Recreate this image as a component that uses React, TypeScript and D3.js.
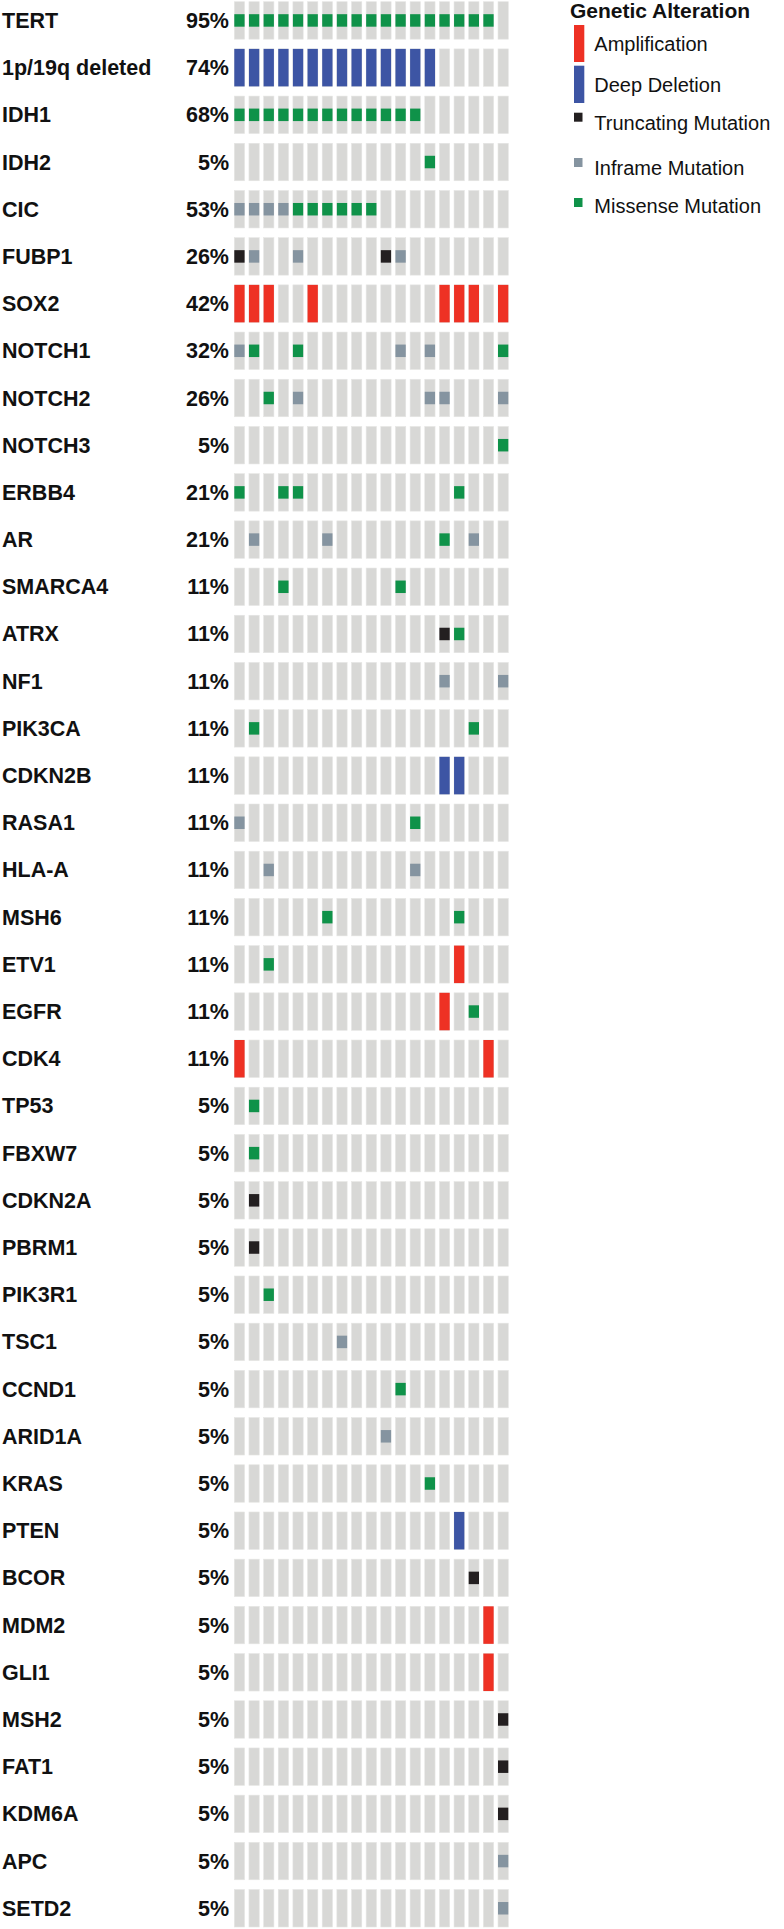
import React from "react";
import * as d3 from "d3";

// genes in display order, with the altered-% label from the plot
const genes = [
  "TERT", "1p/19q deleted", "IDH1", "IDH2", "CIC", "FUBP1", "SOX2", "NOTCH1", "NOTCH2", "NOTCH3",
  "ERBB4", "AR", "SMARCA4", "ATRX", "NF1", "PIK3CA", "CDKN2B", "RASA1", "HLA-A", "MSH6",
  "ETV1", "EGFR", "CDK4", "TP53", "FBXW7", "CDKN2A", "PBRM1", "PIK3R1", "TSC1", "CCND1",
  "ARID1A", "KRAS", "PTEN", "BCOR", "MDM2", "GLI1", "MSH2", "FAT1", "KDM6A", "APC", "SETD2",
];
const percents = [
  "95%", "74%", "68%", "5%", "53%", "26%", "42%", "32%", "26%", "5%",
  "21%", "21%", "11%", "11%", "11%", "11%", "11%", "11%", "11%", "11%",
  "11%", "11%", "11%", "5%", "5%", "5%", "5%", "5%", "5%", "5%",
  "5%", "5%", "5%", "5%", "5%", "5%", "5%", "5%", "5%", "5%", "5%",
];
const samples = d3.range(19);

// altered samples per gene, one list per alteration type
const amplification: [string, number[]][] = [
  ["SOX2", [0, 1, 2, 5, 14, 15, 16, 18]],
  ["ETV1", [15]],
  ["EGFR", [14]],
  ["CDK4", [0, 17]],
  ["MDM2", [17]],
  ["GLI1", [17]],
];
const deepDeletion: [string, number[]][] = [
  ["1p/19q deleted", d3.range(14)],
  ["CDKN2B", [14, 15]],
  ["PTEN", [15]],
];
const truncating: [string, number[]][] = [
  ["FUBP1", [0, 10]],
  ["ATRX", [14]],
  ["CDKN2A", [1]],
  ["PBRM1", [1]],
  ["BCOR", [16]],
  ["MSH2", [18]],
  ["FAT1", [18]],
  ["KDM6A", [18]],
];
const inframe: [string, number[]][] = [
  ["CIC", [0, 1, 2, 3]],
  ["FUBP1", [1, 4, 11]],
  ["NOTCH1", [0, 11, 13]],
  ["NOTCH2", [4, 13, 14, 18]],
  ["AR", [1, 6, 16]],
  ["NF1", [14, 18]],
  ["RASA1", [0]],
  ["HLA-A", [2, 12]],
  ["TSC1", [7]],
  ["ARID1A", [10]],
  ["APC", [18]],
  ["SETD2", [18]],
];
const missense: [string, number[]][] = [
  ["TERT", d3.range(18)],
  ["IDH1", d3.range(13)],
  ["IDH2", [13]],
  ["CIC", [4, 5, 6, 7, 8, 9]],
  ["NOTCH1", [1, 4, 18]],
  ["NOTCH2", [2]],
  ["NOTCH3", [18]],
  ["ERBB4", [0, 3, 4, 15]],
  ["AR", [14]],
  ["SMARCA4", [3, 11]],
  ["ATRX", [15]],
  ["PIK3CA", [1, 16]],
  ["RASA1", [12]],
  ["MSH6", [6, 15]],
  ["ETV1", [2]],
  ["EGFR", [16]],
  ["TP53", [1]],
  ["FBXW7", [1]],
  ["PIK3R1", [2]],
  ["CCND1", [11]],
  ["KRAS", [13]],
];

const legendLabels = ["Amplification", "Deep Deletion", "Truncating Mutation", "Inframe Mutation", "Missense Mutation"];
const colors = {
  amp: "#ee3124",
  del: "#3d55a4",
  trunc: "#231f20",
  inframe: "#8594a0",
  missense: "#0f9249",
  bg: "#d8d8d6",
};

const font = "'Liberation Sans', Arial, Helvetica, sans-serif";

export default function App() {
  const W = 784;
  const H = 1929;

  const x = d3.scaleBand<number>().domain(samples).range([234.3, 508.3]).paddingInner(0.297);
  const y = d3.scaleBand<string>().domain(genes).range([1.7, 1927]).paddingInner(0.206);
  const bw = x.bandwidth();
  const bh = y.bandwidth();
  const mh = bh / 3;

  const flat = (list: [string, number[]][], kind: string) =>
    list.flatMap(([g, s]) => s.map((i) => ({ g, i, kind })));

  const full = [...flat(amplification, "amp"), ...flat(deepDeletion, "del")];
  const small = [...flat(truncating, "trunc"), ...flat(inframe, "inframe"), ...flat(missense, "missense")];

  return (
    <svg width={W} height={H} style={{ position: "absolute", left: 0, top: 0 }} fontFamily={font}>
      <rect width={W} height={H} fill="#fff" />
      {genes.map((g, gi) => (
        <g key={g}>
          <text x={2} y={y(g)! + bh / 2 + 7.5} fontSize={21.5} fontWeight="bold" fill="#111">
            {g}
          </text>
          <text x={229} y={y(g)! + bh / 2 + 7.5} fontSize={21.5} fontWeight="bold" fill="#111" textAnchor="end">
            {percents[gi]}
          </text>
          {samples.map((s) => (
            <rect key={s} x={x(s)} y={y(g)} width={bw} height={bh} fill={colors.bg} stroke="#e6e6e4" strokeWidth={0.6} />
          ))}
        </g>
      ))}
      {full.map((d, k) => (
        <rect key={"f" + k} x={x(d.i)} y={y(d.g)} width={bw} height={bh} fill={(colors as any)[d.kind]} />
      ))}
      {small.map((d, k) => (
        <rect key={"s" + k} x={x(d.i)} y={y(d.g)! + mh} width={bw} height={mh} fill={(colors as any)[d.kind]} />
      ))}

      {/* legend */}
      <text x={570} y={18} fontSize={21} fontWeight="bold" fill="#111">Genetic Alteration</text>
      <rect x={574} y={25} width={10.3} height={37} fill={colors.amp} />
      <rect x={574} y={65.7} width={10.3} height={37.3} fill={colors.del} />
      <rect x={574} y={112.7} width={8.5} height={9} fill={colors.trunc} />
      <rect x={574} y={158} width={8.5} height={9} fill={colors.inframe} />
      <rect x={574} y={198} width={8.5} height={9} fill={colors.missense} />
      {legendLabels.map((l, i) => (
        <text key={l} x={594.3} y={[50.7, 91.7, 130, 175, 213][i]} fontSize={20} fill="#111">
          {l}
        </text>
      ))}
    </svg>
  );
}
